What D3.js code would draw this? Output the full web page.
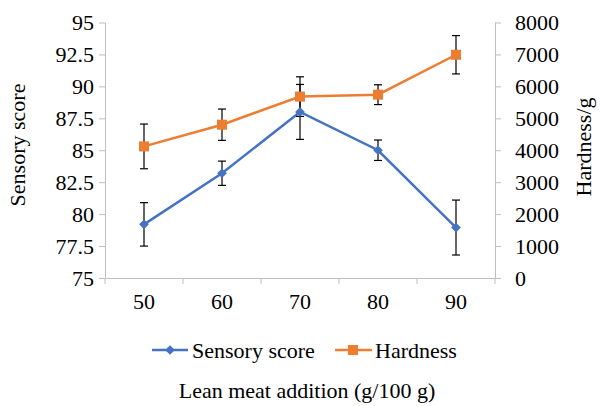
<!DOCTYPE html>
<html><head><meta charset="utf-8">
<script src="https://cdn.jsdelivr.net/npm/d3@7"></script>
<style>body{margin:0;background:#fff}svg{display:block}</style>
</head><body><svg id="c" width="600" height="406"></svg>
<script>
const categories = ["50","60","70","80","90"];
const sensory = [79.2, 83.2, 88.0, 85.0, 78.95];
const sensoryErr = [1.7, 0.95, 2.15, 0.8, 2.15];
const hardness = [4120, 4800, 5680, 5740, 6990];
const hardnessErr = [700, 490, 620, 310, 600];
const leftTicks = [75, 77.5, 80, 82.5, 85, 87.5, 90, 92.5, 95];
const rightTicks = [0, 1000, 2000, 3000, 4000, 5000, 6000, 7000, 8000];

const FONT = "'Liberation Serif', 'Times New Roman', serif";
const svg = d3.select("#c");
const L = 105, R = 495, T = 22.5, B = 278;
const x = d3.scaleBand().domain(categories).range([L, R]);
const yL = d3.scaleLinear().domain([75, 95]).range([B, T]);
const yR = d3.scaleLinear().domain([0, 8000]).range([B, T]);
const axisColor = "#bfbfbf";
const fs = 22;
const styleText = sel => sel.style("font-family", FONT).style("font-size", fs + "px").style("fill", "#000");

// X axis
const xa = svg.append("g").attr("transform", `translate(0,${B})`)
  .call(d3.axisBottom(x).tickSize(0).tickPadding(24));
xa.select(".domain").attr("stroke", axisColor);
xa.selectAll("text").call(styleText).attr("dy", "0.3em");
const bounds = categories.map(c => x(c)).concat([R]);
svg.append("g").selectAll("line").data(bounds).join("line")
  .attr("x1", d => d).attr("x2", d => d).attr("y1", B).attr("y2", B + 6)
  .attr("stroke", axisColor);

// Left axis
const la = svg.append("g").attr("transform", `translate(${L},0)`)
  .call(d3.axisLeft(yL).tickValues(leftTicks).tickSize(6).tickPadding(5).tickFormat(d3.format("")));
la.select(".domain").attr("stroke", axisColor).attr("d", `M0.5,${B}V${T}`);
la.selectAll(".tick line").attr("stroke", axisColor);
la.selectAll("text").call(styleText);

// Right axis
const ra = svg.append("g").attr("transform", `translate(${R},0)`)
  .call(d3.axisRight(yR).tickValues(rightTicks).tickSize(6).tickPadding(14).tickFormat(d3.format("d")));
ra.select(".domain").attr("stroke", axisColor).attr("d", `M0.5,${B}V${T}`);
ra.selectAll(".tick line").attr("stroke", axisColor);
ra.selectAll("text").call(styleText);

const cx = c => x(c) + x.bandwidth() / 2;
const blue = "#4472C4", orange = "#ED7D31";

svg.append("path").datum(hardness)
  .attr("d", d3.line().x((d, i) => cx(categories[i])).y(d => yR(d)))
  .attr("fill", "none").attr("stroke", orange).attr("stroke-width", 2.5);
svg.append("path").datum(sensory)
  .attr("d", d3.line().x((d, i) => cx(categories[i])).y(d => yL(d)))
  .attr("fill", "none").attr("stroke", blue).attr("stroke-width", 2.5);

function errBars(vals, errs, scale) {
  const g = svg.append("g").attr("stroke", "#000").attr("stroke-width", 1.2);
  vals.forEach((v, i) => {
    const X = cx(categories[i]), y1 = scale(v + errs[i]), y2 = scale(v - errs[i]);
    g.append("line").attr("x1", X).attr("x2", X).attr("y1", y1).attr("y2", y2);
    g.append("line").attr("x1", X - 4).attr("x2", X + 4).attr("y1", y1).attr("y2", y1);
    g.append("line").attr("x1", X - 4).attr("x2", X + 4).attr("y1", y2).attr("y2", y2);
  });
}
errBars(hardness, hardnessErr, yR);
errBars(sensory, sensoryErr, yL);

svg.append("g").selectAll("rect").data(hardness).join("rect")
  .attr("x", (d, i) => cx(categories[i]) - 5).attr("y", d => yR(d) - 5)
  .attr("width", 10).attr("height", 10).attr("fill", orange);
const diamond = d3.symbol().type(d3.symbolDiamond2).size(60);
svg.append("g").selectAll("path").data(sensory).join("path")
  .attr("d", diamond)
  .attr("transform", (d, i) => `translate(${cx(categories[i])},${yL(d)})`)
  .attr("fill", blue);

// Legend
const lg = svg.append("g");
lg.append("line").attr("x1", 152).attr("x2", 188).attr("y1", 350).attr("y2", 350).attr("stroke", blue).attr("stroke-width", 2.5);
lg.append("path").attr("d", diamond).attr("transform", "translate(170,350)").attr("fill", blue);
lg.append("text").attr("x", 192).attr("y", 350).attr("dy", "0.35em").call(styleText).text("Sensory score");
lg.append("line").attr("x1", 335).attr("x2", 372).attr("y1", 350).attr("y2", 350).attr("stroke", orange).attr("stroke-width", 2.5);
lg.append("rect").attr("x", 348).attr("y", 345).attr("width", 10).attr("height", 10).attr("fill", orange);
lg.append("text").attr("x", 375).attr("y", 350).attr("dy", "0.35em").call(styleText).text("Hardness");

svg.append("text").attr("x", 307).attr("y", 390).attr("dy", "0.35em").attr("text-anchor", "middle")
  .call(styleText).text("Lean meat addition (g/100 g)");
svg.append("text").attr("transform", "translate(17,145) rotate(-90)").attr("dy", "0.35em")
  .attr("text-anchor", "middle").call(styleText).text("Sensory score");
svg.append("text").attr("transform", "translate(583,147) rotate(-90)").attr("dy", "0.35em")
  .attr("text-anchor", "middle").call(styleText).text("Hardness/g");
</script></body></html>
